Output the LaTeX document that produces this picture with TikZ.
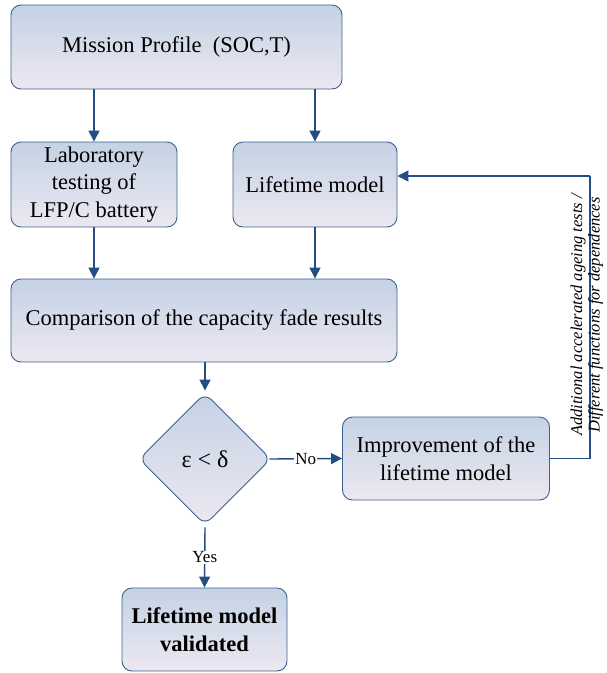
\documentclass[tikz,border=0pt]{standalone}
\usepackage{fontspec}
\setmainfont{Liberation Serif}
\usetikzlibrary{shapes.geometric,arrows.meta}
\definecolor{bordc}{RGB}{60,96,145}
\definecolor{arrc}{RGB}{36,78,130}
\definecolor{topc}{RGB}{196,210,228}
\definecolor{botc}{RGB}{236,232,241}
\tikzset{
  box/.style={draw=bordc, line width=0.9pt, rounded corners=10pt, top color=topc, bottom color=botc,
    align=center, inner sep=2pt, font=\fontsize{22.5}{27.5}\selectfont},
  dec/.style={draw=bordc, line width=0.9pt, rounded corners=9pt, top color=topc, bottom color=botc,
    diamond, aspect=1, minimum width=132pt, minimum height=132pt, inner sep=0pt, font=\fontsize{24}{27}\selectfont},
  arr/.style={draw=arrc, line width=1.4pt, -{Triangle[length=11pt,width=11pt]}},
  lbl/.style={fill=white, inner sep=1pt, font=\fontsize{17}{19}\selectfont},
}
\begin{document}
\begin{tikzpicture}[x=1pt,y=-1pt]
\useasboundingbox (0,0) rectangle (607,673);
\node[box, minimum width=331pt, minimum height=84pt] (mp) at (176.5,47) {Mission Profile~~(SOC,T)};
\node[box, minimum width=166pt, minimum height=85pt] (lab) at (94,184.5) {Laboratory\\testing of\\LFP/C battery};
\node[box, minimum width=164pt, minimum height=85pt] (lm) at (315,184.5) {Lifetime model};
\node[box, minimum width=386pt, minimum height=83pt] (cmp) at (204,320.5) {Comparison of the capacity fade results};
\node[dec] (dia) at (205,459) {ε < δ};
\node[box, minimum width=207pt, minimum height=83pt] (imp) at (446,458.5) {Improvement of the\\lifetime model};
\node[box, minimum width=165pt, minimum height=83pt, font=\fontsize{22.5}{28}\selectfont\bfseries] (val) at (204.5,629.5) {Lifetime model\\validated};
\coordinate (fb) at (590,176);
\draw[arr] (mp.south -| lab.north) -- (lab.north);
\draw[arr] (mp.south -| lm.north) -- (lm.north);
\draw[arr] (lab.south) -- (lab.south |- cmp.north);
\draw[arr] (lm.south) -- (lm.south |- cmp.north);
\draw[arr] (cmp.south -| dia.north) -- ([yshift=2pt]dia.north);
\draw[arr] ([xshift=-2pt]dia.east) -- node[lbl] (no) {No} (imp.west);
\draw[arr] ([yshift=-2pt]dia.south) -- node[lbl] (yes) {Yes} (val.north);
\draw[draw=arrc, line width=1.2pt] (imp.east) -| (fb);
\draw[arr] (fb) -- (fb -| lm.east);
\node[rotate=90, align=center, font=\fontsize{16.5}{17.5}\selectfont\itshape] (note) at (587,315)
  {Additional accelerated ageing tests /\\Different functions for dependences};
\end{tikzpicture}
\end{document}
